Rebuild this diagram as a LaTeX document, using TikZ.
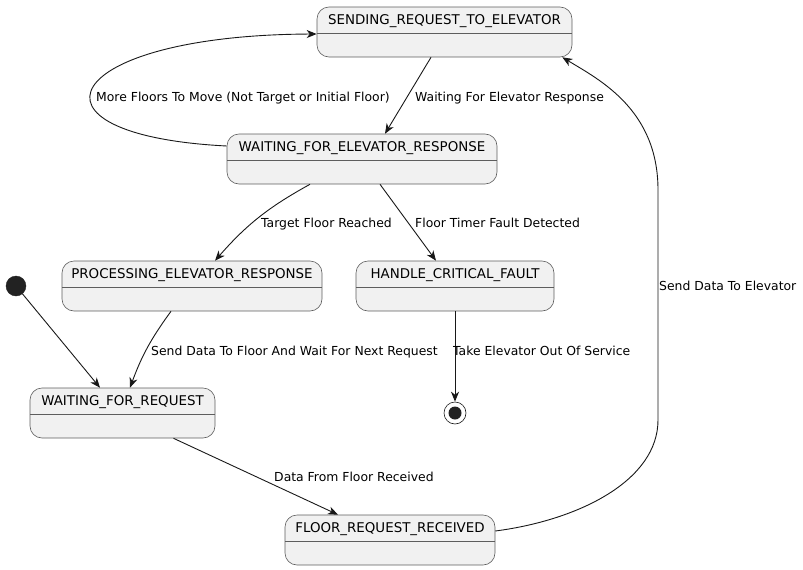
\documentclass[tikz,border=0pt]{standalone}
\usepackage{fontspec}
\setmainfont{DejaVu Sans}
\usetikzlibrary{arrows.meta}
\definecolor{statefill}{HTML}{F1F1F1}
\definecolor{stateline}{HTML}{181818}
\definecolor{dotfill}{HTML}{222222}
\tikzstyle{state_node} = [draw=stateline!70, fill=statefill, line width=0.6pt, rounded corners=12pt, minimum height=50pt, inner xsep=6pt, inner ysep=0pt, text height=17.9pt, text depth=32.1pt, font=\fontsize{13.4}{16}\selectfont,
	path picture={\draw[stateline!70, line width=0.6pt] ([yshift=-26pt]path picture bounding box.north west) -- ([yshift=-26pt]path picture bounding box.north east);}]
\tikzstyle{start_node} = [circle, fill=dotfill, draw=dotfill, minimum size=20pt, inner sep=0pt]
\tikzstyle{end_node} = [circle, fill=white, draw=stateline, line width=0.6pt, minimum size=22pt, inner sep=0pt,
	path picture={\fill[dotfill] (path picture bounding box.center) circle (6.5pt);}]
\tikzstyle{edge_label} = [inner sep=0pt, anchor=west, text height=9pt, text depth=3pt, font=\fontsize{12.4}{15}\selectfont]
\tikzstyle{trans} = [draw=stateline, line width=0.9pt, -{Stealth[length=10pt, width=8pt, inset=3pt]}]

\begin{document}
\begin{tikzpicture}[x=1pt, y=-1pt, node distance=127pt]
	\useasboundingbox (0,0) rectangle (803,570);
	\node[state_node, minimum width=255pt] (send) at (444.5,32) {SENDING\_REQUEST\_TO\_ELEVATOR};
	\node[state_node, minimum width=270pt, below of=send, xshift=-82.5pt] (waitelev) {WAITING\_FOR\_ELEVATOR\_RESPONSE};
	\node[state_node, minimum width=260pt, below of=waitelev, xshift=-170pt] (processing) {PROCESSING\_ELEVATOR\_RESPONSE};
	\node[state_node, minimum width=198pt, below of=waitelev, xshift=93pt] (handle) {HANDLE\_CRITICAL\_FAULT};
	\node[state_node, minimum width=185pt, below of=processing, xshift=-69.5pt] (waitreq) {WAITING\_FOR\_REQUEST};
	\node[state_node, minimum width=210pt, below of=waitreq, xshift=267.5pt] (floorreq) {FLOOR\_REQUEST\_RECEIVED};
	\node[start_node, left of=processing, xshift=-49pt] (init) {};
	\node[end_node, below of=handle] (final) {};

	% transitions
	\draw[trans] (init) -- ([xshift=-22.5pt]waitreq.north);
	\draw[trans] ([xshift=-21pt]processing.south) to[bend right=8] ([xshift=7.5pt]waitreq.north);
	\draw[trans] ([xshift=-13.5pt]send.south) -- ([xshift=23pt]waitelev.north);
	\draw[trans] ([yshift=13pt]waitelev.west) .. controls (10,135) and (60,35) .. ([yshift=-2pt]send.west);
	\draw[trans] ([xshift=-52pt]waitelev.south) to[bend right=10] ([xshift=23pt]processing.north);
	\draw[trans] ([xshift=18pt]waitelev.south) -- ([xshift=-19pt]handle.north);
	\draw[trans] (handle) -- (final);
	\draw[trans] ([xshift=51pt]waitreq.south) -- ([xshift=-52pt]floorreq.north);
	\draw[trans] ([yshift=9pt]floorreq.east) .. controls (580,520) and (658,480) .. (658,420) -- (658,190) .. controls (658,110) and (600,80) .. ([xshift=-10pt]send.south east);

	% labels
	\node[edge_label] (lwaitresp) at (415,98) {Waiting For Elevator Response};
	\node[edge_label] (lmore) at (96,98) {More Floors To Move (Not Target or Initial Floor)};
	\node[edge_label] (ltarget) at (261,224) {Target Floor Reached};
	\node[edge_label] (lfault) at (415,224) {Floor Timer Fault Detected};
	\node[edge_label] (lsendfloor) at (151,352) {Send Data To Floor And Wait For Next Request};
	\node[edge_label] (ltake) at (453,352) {Take Elevator Out Of Service};
	\node[edge_label] (ldata) at (274,478) {Data From Floor Received};
	\node[edge_label] (lsendelev) at (659,287) {Send Data To Elevator};
\end{tikzpicture}
\end{document}
